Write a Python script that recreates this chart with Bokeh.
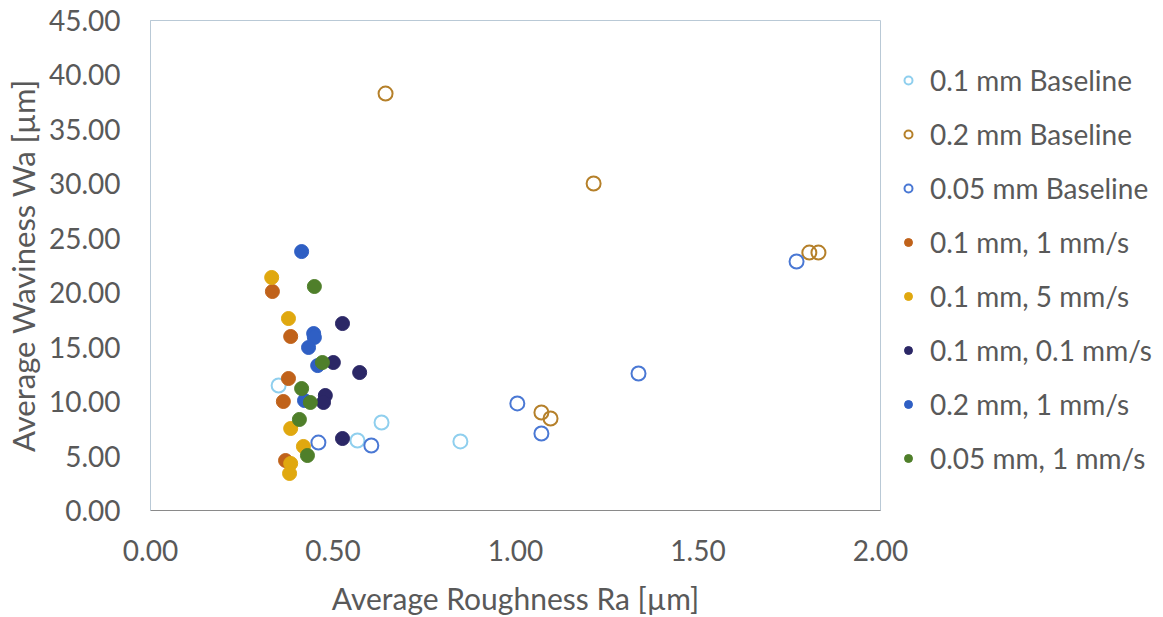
from bokeh.plotting import figure
from bokeh.models import Legend, LegendItem, FixedTicker, NumeralTickFormatter, Range1d
from bokeh.embed import file_html
from bokeh.resources import INLINE

# ---- data (Ra [µm], Wa [µm]) ----
base01_x = [0.351, 0.633, 0.567, 0.849]
base01_y = [11.48, 8.08, 6.43, 6.34]

base02_x = [0.644, 1.214, 1.805, 1.830, 1.071, 1.096]
base02_y = [38.29, 30.03, 23.69, 23.69, 9.00, 8.45]

base005_x = [1.770, 1.337, 1.005, 1.071, 0.460, 0.605]
base005_y = [22.87, 12.58, 9.83, 7.07, 6.24, 5.97]

s01_1_x = [0.334, 0.384, 0.378, 0.364, 0.370]
s01_1_y = [20.11, 15.98, 12.12, 10.01, 4.59]

s01_5_x = [0.332, 0.378, 0.384, 0.419, 0.384, 0.381]
s01_5_y = [21.40, 17.63, 7.53, 5.88, 4.32, 3.40]

s01_01_x = [0.526, 0.501, 0.573, 0.479, 0.474, 0.526]
s01_01_y = [17.17, 13.59, 12.67, 10.56, 9.92, 6.61]

s02_1_x = [0.414, 0.447, 0.449, 0.433, 0.458, 0.422]
s02_1_y = [23.78, 16.25, 15.89, 14.97, 13.31, 10.10]

s005_1_x = [0.449, 0.471, 0.414, 0.438, 0.408, 0.430]
s005_1_y = [20.57, 13.59, 11.20, 9.92, 8.36, 5.05]

labels = ["0.1 mm Baseline", "0.2 mm Baseline", "0.05 mm Baseline",
          "0.1 mm, 1 mm/s", "0.1 mm, 5 mm/s", "0.1 mm, 0.1 mm/s",
          "0.2 mm, 1 mm/s", "0.05 mm, 1 mm/s"]
x_ticks = [0, 0.5, 1.0, 1.5, 2.0]
y_ticks = [0, 5, 10, 15, 20, 25, 30, 35, 40, 45]

FONT = "Lato"
TXT = "#595959"

p = figure(frame_width=730, frame_height=490,
           min_border_left=150, min_border_top=20,
           min_border_bottom=100, min_border_right=275,
           x_range=Range1d(0, 2), y_range=Range1d(0, 45),
           output_backend="svg", toolbar_location=None,
           background_fill_color="white", border_fill_color="white")

p.xgrid.visible = False
p.ygrid.visible = False
p.outline_line_color = "#b9c9d6"
p.outline_line_width = 1

for ax in (p.xaxis[0], p.yaxis[0]):
    ax.major_tick_line_color = None
    ax.minor_tick_line_color = None
    ax.major_label_text_font = FONT
    ax.major_label_text_color = TXT
    ax.major_label_text_font_size = "28px"
    ax.axis_label_text_font = FONT
    ax.axis_label_text_color = TXT
    ax.axis_label_text_font_style = "normal"

p.xaxis[0].axis_label_text_font_size = "30px"
p.yaxis[0].axis_label_text_font_size = "31px"
p.xaxis[0].ticker = FixedTicker(ticks=x_ticks)
p.yaxis[0].ticker = FixedTicker(ticks=y_ticks)
p.xaxis[0].formatter = NumeralTickFormatter(format="0.00")
p.yaxis[0].formatter = NumeralTickFormatter(format="0.00")
p.xaxis[0].axis_label = "Average Roughness Ra [µm]"
p.yaxis[0].axis_label = "Average Waviness Wa [µm]"
p.xaxis[0].axis_line_color = "#8a8a8a"
p.yaxis[0].axis_line_color = "#b9c9d6"
p.xaxis[0].major_label_standoff = 23
p.yaxis[0].major_label_standoff = 24
p.xaxis[0].axis_label_standoff = 16
p.yaxis[0].axis_label_standoff = 4

SIZE = 14
open_series = [
    (base01_x, base01_y, "#8fcfee"),
    (base02_x, base02_y, "#b5802a"),
    (base005_x, base005_y, "#4a78d4"),
]
filled_series = [
    (s01_1_x, s01_1_y, "#c0621a"),
    (s01_5_x, s01_5_y, "#e0a80f"),
    (s01_01_x, s01_01_y, "#2b2766"),
    (s02_1_x, s02_1_y, "#2f5fc4"),
    (s005_1_x, s005_1_y, "#4f7f2a"),
]

renderers = []
for xs, ys, c in open_series:
    r = p.scatter(xs, ys, marker="circle", size=SIZE, fill_color=None,
                  line_color=c, line_width=2)
    renderers.append(r)
for xs, ys, c in filled_series:
    r = p.scatter(xs, ys, marker="circle", size=SIZE, fill_color=c,
                  line_color=c, line_width=1)
    renderers.append(r)

items = [LegendItem(label=lab, renderers=[r]) for lab, r in zip(labels, renderers)]
legend = Legend(items=items, location=(18, 35), orientation="vertical",
                glyph_width=20, glyph_height=34, label_height=34,
                spacing=20, padding=0, margin=0, label_standoff=12,
                label_text_font=FONT, label_text_font_size="28px",
                label_text_color=TXT, border_line_color=None,
                background_fill_alpha=0)
p.add_layout(legend, "right")

open("out.html", "w").write(file_html(p, INLINE))
